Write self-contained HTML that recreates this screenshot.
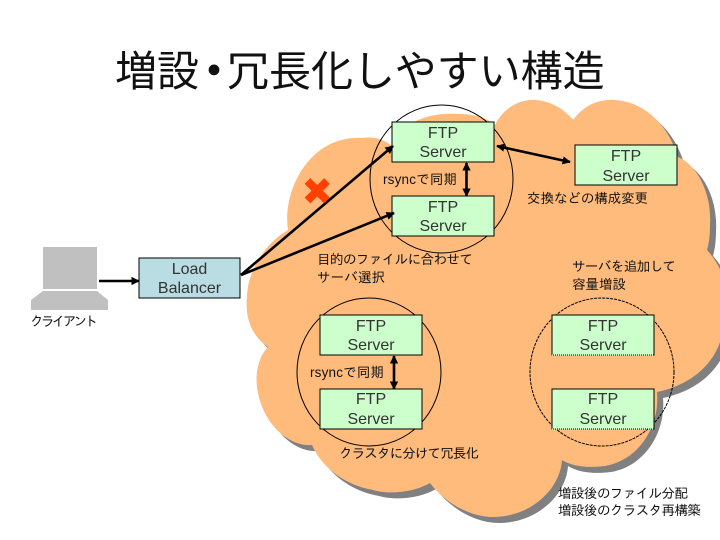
<!DOCTYPE html>
<html><head><meta charset="utf-8"><style>
html,body{margin:0;padding:0;background:#fff;width:720px;height:540px;overflow:hidden}
svg{display:block}
text{font-family:"Liberation Sans","IPAGothic","Noto Sans CJK JP",sans-serif;fill:#111}
.s{font-size:16px;text-anchor:middle;fill:#333}
.j{font-size:13.5px}
.t{font-size:42px;font-family:"Noto Sans CJK JP",sans-serif;fill:#111}
rect.f{fill:#ccffcc;stroke:#000;stroke-width:1}
</style></head><body>
<svg width="720" height="540" viewBox="0 0 720 540" xmlns="http://www.w3.org/2000/svg">
<defs>
<path id="c" d="M288 230 C282 190 310 135 362 138 C375 136 385 140 392 146 C400 125 425 112 457 114 C475 114 488 118 495 125 C503 108 520 99 535 100 C552 101 565 110 573 120 C585 104 600 99 615 100 C645 102 668 125 678 157 C698 165 712 195 710 225 C710 235 709 243 707 250 C725 270 735 300 722 335 C715 365 690 385 657 392 C660 425 640 460 605 466 C590 468 573 467 562 460 C560 490 530 517 493 517 C470 517 445 503 430 483 C415 492 390 495 373 490 C345 485 322 468 312 445 C290 447 262 425 257 387 C255 370 260 355 268 347 C250 335 245 315 247 297 C247 275 262 245 288 230 Z"/>
<marker id="a" viewBox="0 0 10 10" refX="9" refY="5" markerWidth="3.2" markerHeight="3.2" orient="auto-start-reverse"><path d="M0 0L10 5L0 10Z" fill="#000"/></marker>
</defs>
<use href="#c" x="6" y="6" fill="#808080"/>
<use href="#c" fill="#ffbb7c"/>

<text class="t" x="115" y="86">増設</text>
<text class="t" x="193" y="86" font-weight="bold">・</text>
<text class="t" x="227" y="86">冗長化しやすい構造</text>

<g fill="none" stroke="#000" stroke-width="1">
<ellipse cx="441.5" cy="179" rx="71.5" ry="74"/>
<ellipse cx="369" cy="372" rx="72" ry="74"/>
<ellipse cx="602" cy="372" rx="72" ry="74" stroke-dasharray="3 1"/>
</g>

<rect x="43" y="247" width="54" height="42" fill="#c0c0c0"/>
<path d="M43 291H97L108 300V310H31V300Z" fill="#c0c0c0"/>

<rect x="139" y="258" width="101" height="40" fill="#b9dde3" stroke="#000"/>
<rect class="f" x="392" y="122" width="102" height="40"/>
<rect class="f" x="392" y="196" width="102" height="40"/>
<rect class="f" x="575" y="145" width="102" height="40"/>
<rect class="f" x="320" y="315" width="102" height="40"/>
<rect class="f" x="320" y="389" width="102" height="40"/>
<rect class="f" x="552" y="315" width="102" height="40"/>
<rect class="f" x="552" y="389" width="102" height="40"/>
<g stroke="#ccffcc" stroke-width="1" stroke-dasharray="1 1">
<line x1="552" y1="355" x2="654" y2="355"/>
<line x1="552" y1="429" x2="654" y2="429"/>
</g>

<g stroke="#000" stroke-width="2.6" fill="none">
<line x1="99" y1="281" x2="139" y2="281" marker-end="url(#a)"/>
<line x1="241" y1="275" x2="393" y2="146" marker-end="url(#a)"/>
<line x1="241" y1="275" x2="394" y2="213" marker-end="url(#a)"/>
<line x1="466.5" y1="163" x2="466.5" y2="196" marker-start="url(#a)" marker-end="url(#a)"/>
<line x1="497" y1="146" x2="570" y2="162" marker-start="url(#a)" marker-end="url(#a)"/>
<line x1="394" y1="356" x2="394" y2="389" marker-start="url(#a)" marker-end="url(#a)"/>
</g>
<path d="M307.500 181L327 200.500M327 181L307.500 200.500" stroke="#ff4000" stroke-width="8" fill="none"/>

<text class="s"><tspan x="189.500" y="274">Load</tspan><tspan x="189.500" y="293">Balancer</tspan></text>
<text class="s"><tspan x="443" y="138">FTP</tspan><tspan x="443" y="157">Server</tspan></text>
<text class="s"><tspan x="443" y="212">FTP</tspan><tspan x="443" y="231">Server</tspan></text>
<text class="s"><tspan x="626" y="161">FTP</tspan><tspan x="626" y="181">Server</tspan></text>
<text class="s"><tspan x="371" y="331">FTP</tspan><tspan x="371" y="350">Server</tspan></text>
<text class="s"><tspan x="371" y="404">FTP</tspan><tspan x="371" y="424">Server</tspan></text>
<text class="s"><tspan x="603" y="331">FTP</tspan><tspan x="603" y="350">Server</tspan></text>
<text class="s"><tspan x="603" y="404">FTP</tspan><tspan x="603" y="424">Server</tspan></text>

<text class="j" x="30" y="326" textLength="68">クライアント</text>
<text class="j" x="383" y="184" textLength="74">rsyncで同期</text>
<text class="j" x="310" y="377" textLength="74">rsyncで同期</text>
<text class="j" x="527" y="203" textLength="121">交換などの構成変更</text>
<text class="j" x="317" y="264" textLength="156">目的のファイルに合わせて</text>
<text class="j" x="317" y="282" textLength="68">サーバ選択</text>
<text class="j" x="572" y="271" textLength="104">サーバを追加して</text>
<text class="j" x="572" y="289" textLength="54">容量増設</text>
<text class="j" x="339" y="458" textLength="140">クラスタに分けて冗長化</text>
<text class="j" x="558" y="498" textLength="130">増設後のファイル分配</text>
<text class="j" x="558" y="515" textLength="143">増設後のクラスタ再構築</text>
</svg>
</body></html>
